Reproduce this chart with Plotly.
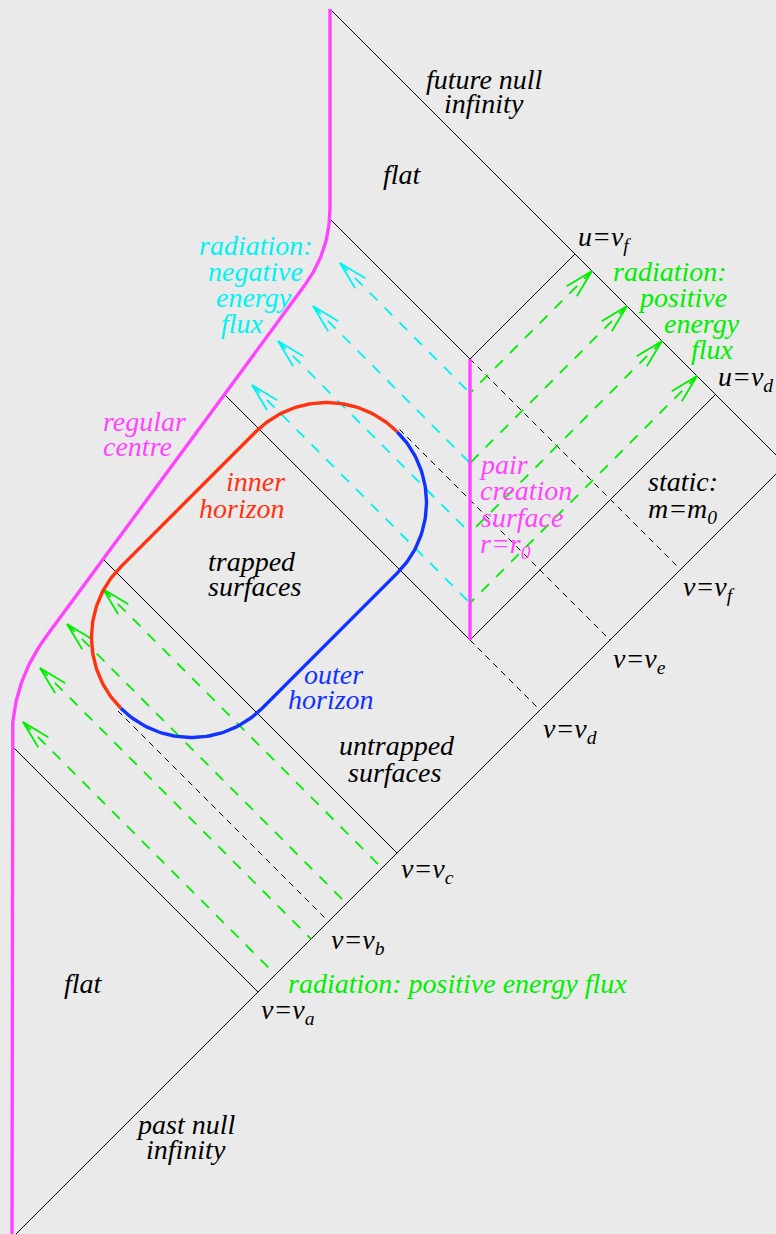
import numpy as np
import plotly.graph_objects as go

W, H = 776, 1234
BG = "#eaeaea"

# ---------------- data: null coordinates u = t - r, v = t + r ----------------
v_scri_plus = 1555              # future null infinity (v = const)
u_scri_minus = -16              # past null infinity (u = const)
v_names = ["a", "b", "c", "d", "e", "f"]
v_vals = [500, 641, 778, 1064, 1204, 1345]
u_names = ["d", "f"]
u_vals = [124, 405]             # outgoing rays u = v_d, u = v_f
centre_r = [12, 12, 330, 330]   # regular centre: corners of its path
centre_t = [0, 551, 983, 1225]
centre_bend = [57, 43]          # rounding of the two bends
r0 = 470                        # pair creation surface r = r0
pair_t = [631, 701, 771, 841]   # pair-creation events on r = r0
neg_tip_r = [252, 278, 313, 340]
pos_in_v = [535, 606, 677, 748]
pos_in_tip_r = [23, 40, 67, 103]
horizon_u = 405
horizon_v = [788, 1058]
horizon_radius = 100

# ---------------- styles ----------------
FS = 28
FONT = "'Liberation Serif', 'Times New Roman', Times, serif"
K = "#000000"
PINK = "#ff44ff"
RED = "#ff3311"
BLUE = "#1133ff"
CYAN = "#00f2f2"
GREEN = "#00ee00"

V = dict(zip(v_names, v_vals))
U = dict(zip(u_names, u_vals))


def rt(u, v):
    return np.array([(v - u) / 2.0, (v + u) / 2.0])


def bezier(a, p, b, n=40):
    s = np.linspace(0, 1, n)[:, None]
    return (1 - s) ** 2 * a + 2 * s * (1 - s) * p + s ** 2 * b


P = np.array(list(zip(centre_r, centre_t)), float)
pts = [P[0]]
for i, T in zip([1, 2], centre_bend):
    d1 = (P[i] - P[i - 1]) / np.linalg.norm(P[i] - P[i - 1])
    d2 = (P[i + 1] - P[i]) / np.linalg.norm(P[i + 1] - P[i])
    pts.extend(bezier(P[i] - d1 * T, P[i], P[i] + d2 * T))
pts.append(P[3])
centre = np.array(pts)


def centre_hit(v):
    s = centre[:, 0] + centre[:, 1]
    for k in range(len(s) - 1):
        if (s[k] - v) * (s[k + 1] - v) <= 0 and s[k] != s[k + 1]:
            f = (v - s[k]) / (s[k + 1] - s[k])
            return centre[k] + f * (centre[k + 1] - centre[k])
    return None


fig = go.Figure()


def add_segments(segs, color, width, dash="solid"):
    xs, ys = [], []
    for a, b in segs:
        xs += [a[0], b[0], None]
        ys += [a[1], b[1], None]
    fig.add_trace(go.Scatter(x=xs, y=ys, mode="lines", hoverinfo="skip",
                             line=dict(color=color, width=width, dash=dash)))


i0 = rt(u_scri_minus, v_scri_plus)
iplus = np.array([centre_r[-1], v_scri_plus - centre_r[-1]])

# solid black null lines
solid = [
    (np.array([centre_r[0], u_scri_minus + centre_r[0]]), i0),   # past null infinity
    (iplus, i0),                                                 # future null infinity
    (centre_hit(V["a"]), rt(u_scri_minus, V["a"])),
    (centre_hit(V["c"]), rt(u_scri_minus, V["c"])),
    (centre_hit(V["d"]), np.array([r0, V["d"] - r0])),
    (centre_hit(V["f"]), np.array([r0, V["f"] - r0])),
    (np.array([r0, U["d"] + r0]), rt(U["d"], v_scri_plus)),
    (np.array([r0, U["f"] + r0]), rt(U["f"], v_scri_plus)),
]
add_segments(solid, K, 1.0)

# dashed black ingoing rays
dashed = [
    (rt(horizon_u, V["b"]), rt(u_scri_minus, V["b"])),
    (rt(horizon_u, V["e"]), rt(u_scri_minus, V["e"])),
    (np.array([r0, V["d"] - r0]), rt(u_scri_minus, V["d"])),
    (np.array([r0, V["f"] - r0]), rt(u_scri_minus, V["f"])),
]
add_segments(dashed, K, 1.0, "6px,5px")

# arrows
AL, AA = 29.5, np.deg2rad(14)


def arrow(tip, start, color):
    add_segments([(tip, start)], color, 1.8, "11px,10px")
    d = (start - tip) / np.linalg.norm(start - tip)
    barbs = []
    for s in (1, -1):
        c, sn = np.cos(s * AA), np.sin(s * AA)
        rot = np.array([d[0] * c - d[1] * sn, d[0] * sn + d[1] * c])
        barbs.append((tip, tip + AL * rot))
    add_segments(barbs, color, 1.8)


for tk, tr in zip(pair_t, neg_tip_r):
    v = tk + r0
    arrow(np.array([tr, v - tr]), np.array([r0, tk]), CYAN)
    arrow(rt(tk - r0, v_scri_plus), np.array([r0, tk]), GREEN)

for v, tr in zip(pos_in_v, pos_in_tip_r):
    arrow(np.array([tr, v - tr]), rt(u_scri_minus, v), GREEN)

# pair creation surface
fig.add_trace(go.Scatter(x=[r0, r0], y=[U["d"] + r0, U["f"] + r0], mode="lines",
                         hoverinfo="skip", line=dict(color=PINK, width=3.4)))

# regular centre
fig.add_trace(go.Scatter(x=centre[:, 0], y=centre[:, 1], mode="lines", hoverinfo="skip",
                         line=dict(color=PINK, width=3.4)))

# horizons
C2 = rt(horizon_u, horizon_v[0])
C1 = rt(horizon_u, horizon_v[1])


def arc(c, a0, a1, n=60):
    a = np.deg2rad(np.linspace(a0, a1, n))
    return np.c_[c[0] + horizon_radius * np.cos(a), c[1] + horizon_radius * np.sin(a)]


red = np.vstack([arc(C2, 225, 135), arc(C1, 135, 45)])
blue = np.vstack([arc(C1, 45, -45), arc(C2, -45, -135)])
fig.add_trace(go.Scatter(x=red[:, 0], y=red[:, 1], mode="lines", hoverinfo="skip",
                         line=dict(color=RED, width=3.4)))
fig.add_trace(go.Scatter(x=blue[:, 0], y=blue[:, 1], mode="lines", hoverinfo="skip",
                         line=dict(color=BLUE, width=3.4)))

# labels: (text, left x, baseline y in page pixels, colour)
labels = [
    ("future null", 425, 88, K), ("infinity", 443, 112, K),
    ("flat", 382, 183, K), ("u=v<sub>f</sub>", 577, 245, K),
    ("radiation:", 612, 280, GREEN), ("positive", 637, 306, GREEN),
    ("energy", 663, 332, GREEN), ("flux", 690, 358, GREEN),
    ("u=v<sub>d</sub>", 717, 385, K),
    ("radiation:", 198, 254, CYAN), ("negative", 207, 280, CYAN),
    ("energy", 215, 306, CYAN), ("flux", 220, 332, CYAN),
    ("regular", 102, 430, PINK), ("centre", 102, 455, PINK),
    ("inner", 225, 490, RED), ("horizon", 198, 517, RED),
    ("trapped", 207, 570, K), ("surfaces", 207, 595, K),
    ("outer", 303, 683, BLUE), ("horizon", 287, 708, BLUE),
    ("untrapped", 338, 754, K), ("surfaces", 347, 781, K),
    ("pair", 478, 473, PINK), ("creation", 479, 499, PINK),
    ("surface", 480, 526, PINK), ("r=r<sub>0</sub>", 479, 552, PINK),
    ("static:", 647, 490, K), ("m=m<sub>0</sub>", 647, 517, K),
    ("v=v<sub>f</sub>", 682, 595, K), ("v=v<sub>e</sub>", 612, 667, K),
    ("v=v<sub>d</sub>", 542, 737, K), ("v=v<sub>c</sub>", 400, 877, K),
    ("v=v<sub>b</sub>", 330, 948, K),
    ("radiation: positive energy flux", 287, 992, GREEN),
    ("v=v<sub>a</sub>", 260, 1018, K), ("flat", 63, 992, K),
    ("past null", 135, 1133, K), ("infinity", 145, 1158, K),
]
ASC = 0.891
for txt, x, bl, col in labels:
    fig.add_annotation(x=x, y=H - (bl - ASC * FS), xref="x", yref="y", text=txt,
                       showarrow=False, xanchor="left", yanchor="top", borderpad=0,
                       font=dict(family=FONT, size=FS, color=col, style="italic"))

fig.update_layout(
    width=W, height=H, margin=dict(l=0, r=0, t=0, b=0),
    paper_bgcolor=BG, plot_bgcolor=BG, showlegend=False,
    xaxis=dict(range=[0, W], visible=False, fixedrange=True),
    yaxis=dict(range=[0, H], visible=False, fixedrange=True),
)

fig.write_html("out.html", config={"displayModeBar": False},
               post_script="document.body.style.margin='0px';")
